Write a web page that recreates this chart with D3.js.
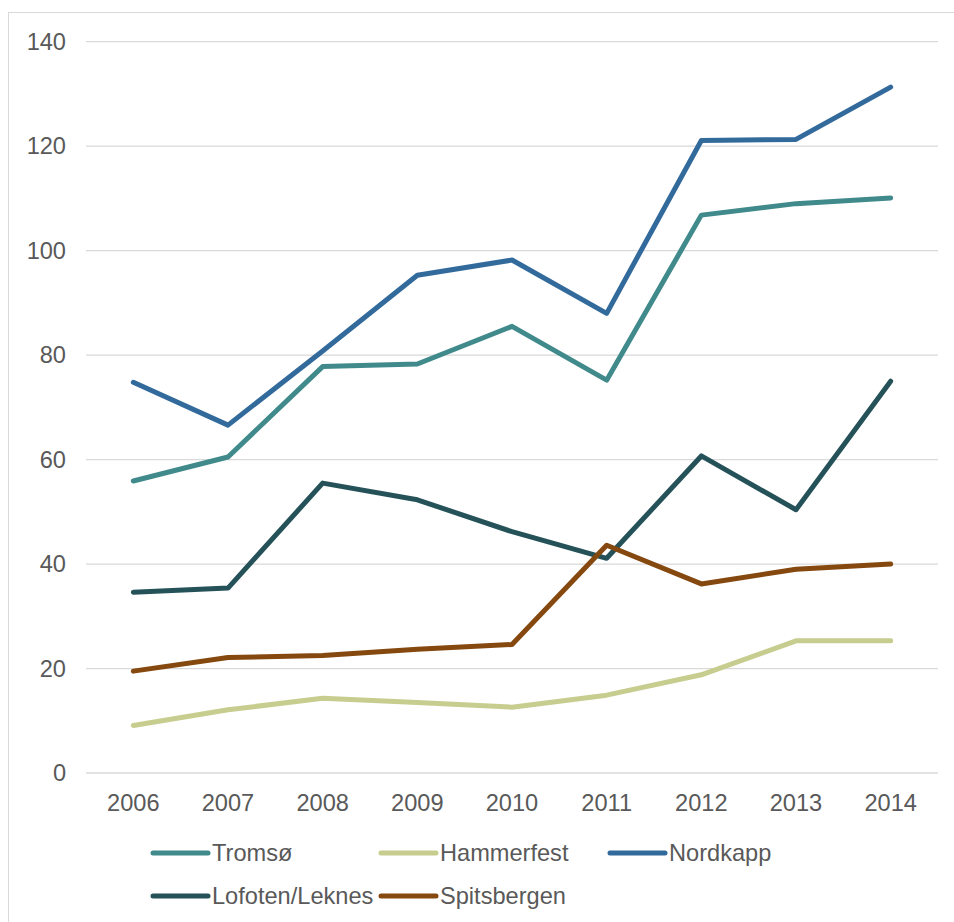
<!DOCTYPE html>
<html>
<head>
<meta charset="utf-8">
<script src="https://cdn.jsdelivr.net/npm/d3@7"></script>
<style>
body { margin: 0; background: #fff; }
svg { display: block; }
text { font-family: "Liberation Sans", Arial, sans-serif; fill: #595959; }
</style>
</head>
<body>
<script>
const years = ["2006","2007","2008","2009","2010","2011","2012","2013","2014"];
const tromso      = [55.9, 60.5, 77.8, 78.3, 85.5, 75.2, 106.8, 109.0, 110.1];
const hammerfest  = [9.1, 12.1, 14.3, 13.5, 12.6, 14.9, 18.8, 25.3, 25.3];
const nordkapp    = [74.8, 66.6, 80.8, 95.3, 98.2, 88.0, 121.1, 121.3, 131.3];
const lofoten     = [34.6, 35.4, 55.5, 52.3, 46.2, 41.1, 60.7, 50.4, 75.0];
const spitsbergen = [19.5, 22.1, 22.5, 23.7, 24.6, 43.6, 36.2, 39.0, 40.0];
const yTicks = [0, 20, 40, 60, 80, 100, 120, 140];

const seriesNames = ["Tromsø", "Hammerfest", "Nordkapp", "Lofoten/Leknes", "Spitsbergen"];
const seriesValues = [tromso, hammerfest, nordkapp, lofoten, spitsbergen];
const seriesColors = ["#418a8c", "#c6cd8f", "#336a9c", "#255259", "#85480f"];

const W = 954, H = 922;
const FS = 23.6;
const svg = d3.select("body").append("svg").attr("width", W).attr("height", H);

svg.append("rect").attr("x", 8.5).attr("y", 12.5).attr("width", 980).attr("height", 960)
  .attr("fill", "none").attr("stroke", "#d9d9d9").attr("stroke-width", 1);

const x = d3.scaleBand().domain(years).range([86, 938]);
const y = d3.scaleLinear().domain([0, 140]).range([773, 41.7]);

// gridlines
svg.append("g").selectAll("line").data(yTicks).join("line")
  .attr("x1", 86).attr("x2", 938)
  .attr("y1", d => y(d)).attr("y2", d => y(d))
  .attr("stroke", "#d9d9d9").attr("stroke-width", 1.3);

// y axis labels
const yAxis = d3.axisLeft(y).tickValues(yTicks).tickSize(0).tickPadding(0);
const gy = svg.append("g").attr("transform", "translate(66,0)").call(yAxis);
gy.select(".domain").remove();
gy.selectAll("text").attr("font-size", FS).attr("fill", "#595959")
  .style("font-family", "'Liberation Sans', Arial, sans-serif");

// x axis labels
const xAxis = d3.axisBottom(x).tickSize(0).tickPadding(0);
const gx = svg.append("g").attr("transform", "translate(0,793)").call(xAxis);
gx.select(".domain").remove();
gx.selectAll("text").attr("font-size", FS).attr("fill", "#595959").attr("dy", "0.75em")
  .style("font-family", "'Liberation Sans', Arial, sans-serif");

const line = d3.line().x((d, i) => x(years[i]) + x.bandwidth() / 2).y(d => y(d));

seriesValues.forEach((vals, k) => {
  svg.append("path").datum(vals)
    .attr("d", line)
    .attr("fill", "none")
    .attr("stroke", seriesColors[k])
    .attr("stroke-width", 5)
    .attr("stroke-linejoin", "round")
    .attr("stroke-linecap", "round");
});

// legend
const legendPos = [[153, 853], [381, 853], [610, 853], [153, 896], [381, 896]];
seriesNames.forEach((name, k) => {
  const [lx, ly] = legendPos[k];
  svg.append("line").attr("x1", lx).attr("x2", lx + 55).attr("y1", ly).attr("y2", ly)
    .attr("stroke", seriesColors[k]).attr("stroke-width", 5).attr("stroke-linecap", "round");
  svg.append("text").attr("x", lx + 59).attr("y", ly).attr("dy", "0.35em")
    .attr("font-size", FS).text(name);
});
</script>
</body>
</html>
